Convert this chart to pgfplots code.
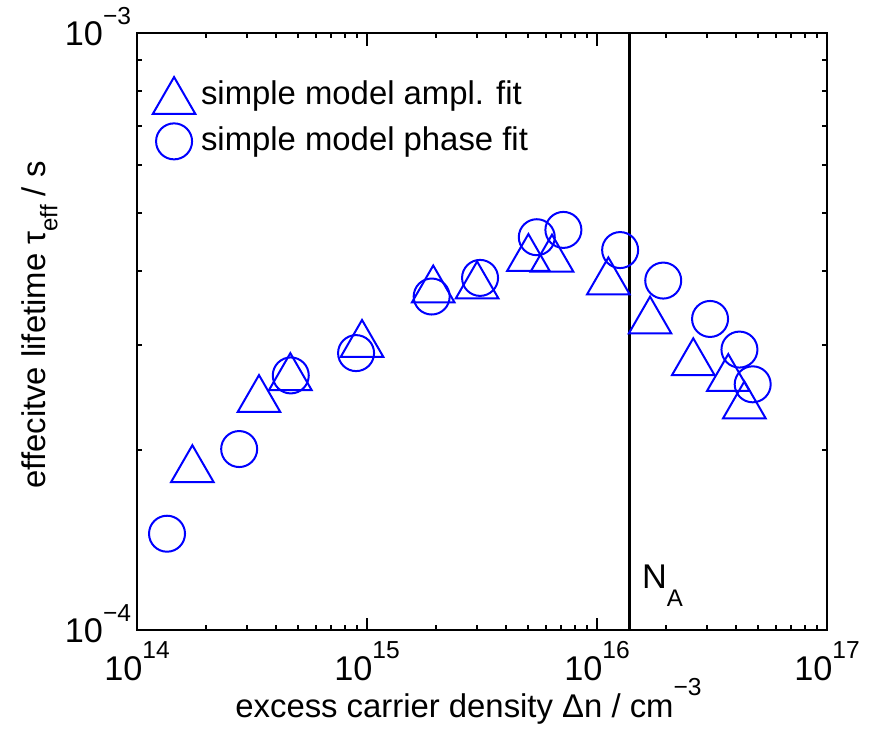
\documentclass[border=0pt]{standalone}
\usepackage{fontspec}
\setmainfont{Liberation Sans}
\usepackage{pgfplots}
\pgfplotsset{compat=1.18}
\newcommand\sx[1]{\raisebox{7.4pt}{\fontsize{8.6}{10}\selectfont #1}}
\newcommand\sbs[2]{\raisebox{-#1}{\fontsize{8.4}{10}\selectfont #2}}

\begin{document}
\fontsize{11.5}{13.8}\selectfont
\begin{tikzpicture}
\useasboundingbox (-47.95pt,-35pt) rectangle (256.2pt,220.5pt);
\begin{axis}[
  at={(0pt,0pt)}, anchor=south west,
  scale only axis, width=241.5pt, height=208.95pt,
  xmode=log, ymode=log,
  xmin=1e14, xmax=1e17, ymin=1e-4, ymax=1e-3,
  xtick={1e14,1e15,1e16,1e17},
  xticklabels={10\sx{14},10\sx{15},10\sx{16},10\sx{17}},
  ytick={1e-4,1e-3},
  yticklabels={10\sx{−4},10\sx{−3}},
  minor xtick={2e14,3e14,4e14,5e14,6e14,7e14,8e14,9e14,2e15,3e15,4e15,5e15,6e15,7e15,8e15,9e15,2e16,3e16,4e16,5e16,6e16,7e16,8e16,9e16},
  minor ytick={2e-4,3e-4,4e-4,5e-4,6e-4,7e-4,8e-4,9e-4},
  tick align=inside,
  major tick length=4.4pt, minor tick length=1.9pt,
  xtick pos=both, ytick pos=both,
  axis line style={line width=0.85pt},
  every tick/.style={black, line width=0.7pt},
  tick label style={font=\fontsize{12}{14}\selectfont, inner sep=0pt},
  xticklabel style={anchor=base, yshift=-17.5pt},
  yticklabel style={anchor=base east, xshift=-1.9pt, yshift=-4.4pt},
  label style={font=\fontsize{11.5}{13.8}\selectfont, inner sep=0pt},
  xlabel={excess carrier density Δn / cm\sx{−3}},
  ylabel={effecitve lifetime τ\sbs{4.3pt}{eff} / s},
  every axis x label/.style={at={(rel axis cs:0.4804,-0.1457)}, anchor=base},
  every axis y label/.style={at={(rel axis cs:-0.1333,0.511)}, anchor=base, rotate=90},
  legend style={draw=none, fill=none, at={(0.022,0.93)}, anchor=north west,
    font=\fontsize{11.5}{13.8}\selectfont, row sep=2pt, inner sep=0pt},
  legend cell align=left,
]
\addplot[only marks, blue, mark=triangle, mark size=8.6pt,
  mark options={line width=0.7pt, yshift=-2.15pt}] coordinates {
  (1.74e14,1.90e-4) (3.39e14,2.49e-4) (4.64e14,2.71e-4) (9.51e14,3.08e-4)
  (1.94e15,3.80e-4) (3.01e15,3.86e-4) (5.03e15,4.29e-4) (6.37e15,4.28e-4)
  (1.12e16,3.92e-4) (1.70e16,3.37e-4) (2.62e16,2.87e-4) (3.72e16,2.70e-4)
  (4.37e16,2.43e-4)
};
\addlegendentry{simple model ampl. fit}
\addplot[only marks, blue, mark=o, mark size=6.3pt,
  mark options={line width=0.7pt}] coordinates {
  (1.35e14,1.45e-4) (2.78e14,2.01e-4) (4.66e14,2.67e-4) (8.96e14,2.91e-4)
  (1.91e15,3.62e-4) (3.10e15,3.89e-4) (5.47e15,4.55e-4) (7.14e15,4.68e-4)
  (1.26e16,4.33e-4) (1.94e16,3.85e-4) (3.10e16,3.32e-4) (4.16e16,2.95e-4)
  (4.75e16,2.58e-4)
};
\addlegendentry{simple model phase fit}
\addplot[black, line width=1pt, forget plot] coordinates {(1.38e16,1e-4) (1.38e16,1e-3)};
\node[anchor=base west, inner sep=0pt, font=\fontsize{12}{14}\selectfont] at (axis cs:1.56e16,1.176e-4) {N\sbs{6.5pt}{A}};
\end{axis}
\end{tikzpicture}
\end{document}
